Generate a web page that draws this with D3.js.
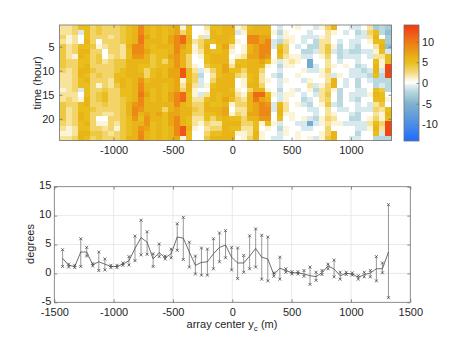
<!DOCTYPE html>
<html><head><meta charset="utf-8">
<script src="https://cdn.jsdelivr.net/npm/d3@7/dist/d3.min.js"></script>
<style>
body{margin:0;background:#fff;}
svg{display:block;font-family:"Liberation Sans",Arial,Helvetica,sans-serif;}
</style></head><body>
<svg id="fig" width="453" height="340"></svg>
<script>
// array centre positions y_c (m), one per column / error-bar point
const positions = [-1430,-1379,-1328,-1277,-1227,-1176,-1125,-1074,-1023,-972,-922,-871,-820,-769,-718,-667,-616,-566,-515,-464,-413,-362,-311,-260,-210,-159,-108,-57,-6,45,96,146,197,248,299,350,401,451,502,553,604,655,706,756,807,858,909,960,1011,1062,1112,1163,1214,1265,1316];

// hours of day (rows of the upper panel)
const hours = [1,2,3,4,5,6,7,8,9,10,11,12,13,14,15,16,17,18,19,20,21,22,23,24];

// cell values per position, hour 1..24 top to bottom, one character per hour
const cellCode = {"0":0,"1":1,"2":2,"3":3,"4":4,"5":5,"6":6,"7":7,"8":8,"9":9,"a":10,"b":11,"c":12,"d":13,
  "z":-1,"y":-2,"x":-3,"w":-4,"v":-5,"u":-6,"t":-7};
const hourlyCells = [
  "223244444322212244443212","221122233222222332222112","332233133333332233333223","5z00566556655z0155665566",
  "555656556656555665556565","333343333433333334333343","443013443343134433301344","333320023333345543201233",
  "332333233332233333233323","333333344455433333332133","444422244556655444444444","555565566665555566655556",
  "666699866666666689986666","99aa9986556899a998656899","667667665335667666788766","555655444556655566665555",
  "666665555666666666766666","555565535556555563555555","667766766776667766777666","779999888777779997799997",
  "13bb76666cc123bb66666cc1","556655333555665556655655","000211001233211234322100","002332100zyzz0z233321000",
  "21z566554100102566553234","566505665323566656532356","556655665556665556652356","666676667766666767766666",
  "665521012566656510156566","1z0100156530012332356510","210011255321101232233211","569966766655636666763223",
  "66997776666666ba77765566","66779997632236b799981011","667999851001015689985100","010zz00100z00010zz00100z",
  "zyzy565zyzyzzyzz5665zyzz","011233211001001122100110","001100121000011000110000","1000z01100100z001000z011",
  "00zz0yz0010z00zyz001zz00","0zz0yyzuuz01210zyz0zuz01","z0zyyz00zz00zyz00zzyz00z","101222100110122210011011",
  "322244322322334342232334","61001z0010z66100z0121066","000zyyyz00100yyyyz001000","0z000zz0100zz0000z00z000",
  "z00zzyz00zz000zz00zyz00z","zyzzyyzzyzzyyzzyzzyyzzyz","0zz00z00zyz00zz00z00zz00","23210zz00zyz0010zz012100",
  "x5652125665yy5652323565y","yy0565211zyyz455421132zy","xwxxwz55dddyyy010565dddy"
];

// lower panel: mean and spread (degrees) at each position
const meanDeg = [2.6,1.4,1.2,3.7,3.7,1.5,2.0,1.6,1.2,1.2,1.6,2.2,4.3,6.2,5.4,2.5,3.6,2.7,3.4,6.3,6.1,3.7,1.4,1.9,2.0,3.4,4.5,4.9,2.8,1.8,1.8,3.0,4.3,2.8,2.5,-0.2,0.9,0.5,0.1,0.1,-0.1,-0.4,-0.55,0.1,1.3,0.75,-0.4,0.0,-0.1,-0.7,-0.2,0.05,0.8,0.8,3.7];
const lowDeg  = [1.2,1.1,1.0,1.2,3.0,1.3,0.5,0.6,1.0,1.0,1.4,1.45,2.2,3.2,3.3,1.2,2.9,2.5,2.7,4.0,2.4,1.1,-0.1,-0.3,-0.3,0.8,2.0,2.7,0.6,-0.9,0.2,0.8,1.1,-1.0,-1.3,-0.5,-1.0,0.2,-0.1,-0.1,-0.5,-1.9,-1.2,-0.2,0.8,-0.6,-1.0,-0.2,-0.3,-1.0,-0.6,-0.6,-1.3,0.1,-4.2];
const highDeg = [4.1,1.6,1.4,6.0,4.5,1.7,3.7,2.5,1.4,1.4,1.8,2.9,6.45,9.2,7.2,3.4,5.1,3.0,4.2,8.6,9.7,5.4,3.0,4.4,4.2,6.0,7.0,7.4,4.5,4.4,3.1,6.5,7.7,6.6,6.3,0.1,2.8,0.8,0.3,0.3,0.5,1.1,0.2,0.5,1.6,2.3,0.2,0.2,0.1,-0.4,0.2,0.5,2.9,1.8,11.9];

const xTicks = [-1000,-500,0,500,1000];
const hourTicks = [5,10,15,20];
const cbTicks = [-10,-5,0,5,10];
const xTicksLow = [-1500,-1000,-500,0,500,1000,1500];
const yTicksLow = [-5,0,5,10,15];

const svg = d3.select("#fig");
const ink = "#262626", boxCol = "#707070";
const fs = "11px";
const plain = d => String(d);   // hyphen-minus labels

// diverging colour map: blue (negative) - white - yellow/orange/red (positive)
const color = d3.scaleLinear()
  .domain([-14,-10,-5,-2,-0.5,0,1,2.5,5,6,7,8.5,10,12,14])
  .range(["#1f6bff","#4a8de6","#80b3cc","#b9d8df","#e6f2f3","#ffffff","#fcf4d6","#f4da7c","#e9bd1c","#e8b418","#e9a614","#ec8e14","#ee7816","#f05618","#f2380e"])
  .clamp(true);

// ---------- upper panel: hour x position ----------
const step0 = positions[1]-positions[0], stepN = positions[positions.length-1]-positions[positions.length-2];
const edges = [positions[0]-step0/2];
for (let i=0;i<positions.length-1;i++) edges.push((positions[i]+positions[i+1])/2);
edges.push(positions[positions.length-1]+stepN/2);

const xTop = d3.scaleLinear().domain([edges[0], edges[edges.length-1]]).range([59.5, 391.5]);
const yTop = d3.scaleLinear().domain([0.5, 24.5]).range([25, 140.5]);

const cells = [];
hourlyCells.forEach((col, i) => {
  hours.forEach((h, j) => cells.push({i, h, v: cellCode[col[j]]}));
});
svg.append("g").attr("shape-rendering","crispEdges")
  .selectAll("rect").data(cells).join("rect")
  .attr("x", d => xTop(edges[d.i]))
  .attr("width", d => xTop(edges[d.i+1]) - xTop(edges[d.i]) + 0.4)
  .attr("y", d => yTop(d.h-0.5))
  .attr("height", d => yTop(d.h+0.5) - yTop(d.h-0.5) + 0.4)
  .attr("fill", d => color(d.v));

function styleAxis(g){
  g.select(".domain").remove();
  g.selectAll(".tick line").attr("stroke", boxCol).attr("stroke-width",0.8);
  g.selectAll(".tick text").attr("fill", ink).style("font-size", fs);
}
const tk = 3;
svg.append("g").attr("transform",`translate(0,${yTop.range()[1]})`)
  .call(d3.axisBottom(xTop).tickValues(xTicks).tickSizeInner(-tk).tickSizeOuter(0).tickPadding(6).tickFormat(plain))
  .call(styleAxis);
svg.append("g").attr("transform",`translate(0,${yTop.range()[0]})`)
  .call(d3.axisTop(xTop).tickValues(xTicks).tickSizeInner(-tk).tickSizeOuter(0).tickFormat(""))
  .call(styleAxis);
svg.append("g").attr("transform",`translate(${xTop.range()[0]},0)`)
  .call(d3.axisLeft(yTop).tickValues(hourTicks).tickSizeInner(-tk).tickSizeOuter(0).tickPadding(5).tickFormat(plain))
  .call(styleAxis);
svg.append("g").attr("transform",`translate(${xTop.range()[1]},0)`)
  .call(d3.axisRight(yTop).tickValues(hourTicks).tickSizeInner(-tk).tickSizeOuter(0).tickFormat(""))
  .call(styleAxis);
svg.append("rect").attr("x",xTop.range()[0]).attr("y",yTop.range()[0])
  .attr("width",xTop.range()[1]-xTop.range()[0]).attr("height",yTop.range()[1]-yTop.range()[0])
  .attr("fill","none").attr("stroke",boxCol).attr("stroke-width",0.8);
svg.append("text").attr("transform","translate(40.5,83) rotate(-90)")
  .attr("text-anchor","middle").attr("fill",ink).style("font-size",fs).text("time (hour)");

// ---------- colour bar ----------
const cbY = d3.scaleLinear().domain([-14,14]).range([141, 25]);
const cbX0 = 404, cbX1 = 419;
const grad = svg.append("defs").append("linearGradient").attr("id","cbgrad")
  .attr("x1","0").attr("y1","1").attr("x2","0").attr("y2","0");
d3.range(0, 57).forEach(k => {
  const v = -14 + k*0.5;
  grad.append("stop").attr("offset", (v+14)/28).attr("stop-color", color(v));
});
svg.append("rect").attr("x",cbX0).attr("y",cbY(14)).attr("width",cbX1-cbX0).attr("height",cbY(-14)-cbY(14))
  .attr("fill","url(#cbgrad)").attr("stroke",boxCol).attr("stroke-width",0.8);
svg.append("g").attr("transform",`translate(${cbX1},0)`)
  .call(d3.axisRight(cbY).tickValues(cbTicks).tickSizeInner(-2.5).tickSizeOuter(0).tickPadding(3).tickFormat(plain))
  .call(styleAxis);

// ---------- lower panel: degrees vs position ----------
const xLow = d3.scaleLinear().domain([-1500,1500]).range([54.3, 410.3]);
const yLow = d3.scaleLinear().domain([-5,15]).range([302.3, 186.7]);

const grid = svg.append("g").attr("stroke","#e3e3e3").attr("stroke-width",0.8);
xTicksLow.slice(1,-1).forEach(t => grid.append("line").attr("x1",xLow(t)).attr("x2",xLow(t)).attr("y1",yLow(-5)).attr("y2",yLow(15)));
yTicksLow.slice(1,-1).forEach(t => grid.append("line").attr("x1",xLow(-1500)).attr("x2",xLow(1500)).attr("y1",yLow(t)).attr("y2",yLow(t)));

svg.append("g").attr("transform",`translate(0,${yLow.range()[0]})`)
  .call(d3.axisBottom(xLow).tickValues(xTicksLow).tickSizeInner(-tk).tickSizeOuter(0).tickPadding(6).tickFormat(plain))
  .call(styleAxis);
svg.append("g").attr("transform",`translate(0,${yLow.range()[1]})`)
  .call(d3.axisTop(xLow).tickValues(xTicksLow).tickSizeInner(-tk).tickSizeOuter(0).tickFormat(""))
  .call(styleAxis);
svg.append("g").attr("transform",`translate(${xLow.range()[0]},0)`)
  .call(d3.axisLeft(yLow).tickValues(yTicksLow).tickSizeInner(-tk).tickSizeOuter(0).tickPadding(3).tickFormat(plain))
  .call(styleAxis)
  .call(g => g.selectAll(".tick text").attr("dy","0.2em"));
svg.append("g").attr("transform",`translate(${xLow.range()[1]},0)`)
  .call(d3.axisRight(yLow).tickValues(yTicksLow).tickSizeInner(-tk).tickSizeOuter(0).tickFormat(""))
  .call(styleAxis);
svg.append("rect").attr("x",xLow.range()[0]).attr("y",yLow.range()[1])
  .attr("width",xLow.range()[1]-xLow.range()[0]).attr("height",yLow.range()[0]-yLow.range()[1])
  .attr("fill","none").attr("stroke",boxCol).attr("stroke-width",0.8);

const pts = positions.map((p,i) => ({x:p, m:meanDeg[i], lo:lowDeg[i], hi:highDeg[i]}));
svg.append("g").selectAll("line").data(pts).join("line")
  .attr("x1",d=>xLow(d.x)).attr("x2",d=>xLow(d.x))
  .attr("y1",d=>yLow(d.lo)).attr("y2",d=>yLow(d.hi))
  .attr("stroke","#8c8c8c").attr("stroke-width",0.9);
svg.append("path").datum(pts)
  .attr("d", d3.line().x(d=>xLow(d.x)).y(d=>yLow(d.m)))
  .attr("fill","none").attr("stroke","#4a4a4a").attr("stroke-width",0.8);
const ends = [];
pts.forEach(d => { ends.push({x:d.x, v:d.lo}); ends.push({x:d.x, v:d.hi}); });
const ms = 1.5;
svg.append("g").attr("stroke","#3a3a3a").attr("stroke-width",0.7)
  .selectAll("path").data(ends).join("path")
  .attr("d", d => { const cx = xLow(d.x), cy = yLow(d.v);
    return `M${cx-ms},${cy-ms}L${cx+ms},${cy+ms}M${cx-ms},${cy+ms}L${cx+ms},${cy-ms}`; });

svg.append("text").attr("transform","translate(34,244) rotate(-90)")
  .attr("text-anchor","middle").attr("fill",ink).style("font-size",fs).text("degrees");
const xl = svg.append("text").attr("x",232).attr("y",328).attr("text-anchor","middle")
  .attr("fill",ink).style("font-size",fs);
xl.append("tspan").text("array center y");
xl.append("tspan").attr("dy",2.5).style("font-size","8px").text("c");
xl.append("tspan").attr("dy",-2.5).text(" (m)");
</script>
</body></html>
